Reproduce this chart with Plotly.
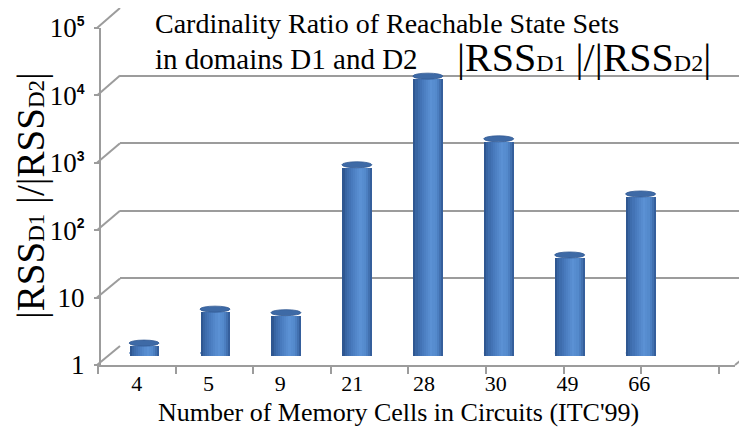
import math
import plotly.graph_objects as go

# ---------------- data ----------------
categories = ["4", "5", "9", "21", "28", "30", "49", "66"]
ratios = [1.38, 4.4, 3.9, 610, 12600, 1480, 28, 225]
y_tick_values = [1, 10, 100, 1000, 10000, 100000]
x_title = "Number of Memory Cells in Circuits (ITC'99)"
title_line1 = "Cardinality Ratio of Reachable State Sets"
title_line2 = "in domains D1 and D2"

# ---------------- geometry / style ----------------
# the page body has an 8 px margin, so the figure is 8 px smaller than the window
BODY = 8
W, H = 747 - BODY, 429 - BODY
PL, PR, PT, PB = 97, 747, 8, 365          # plot area in window pixels
PW, PH = PR - PL, PB - PT
ML, MR, MT, MB = PL - BODY, 747 - PR, PT - BODY, 429 - PB
DX, DY = 23, 19                            # 3-D depth offset in px
GRID = "#9c9c9c"
SERIF = "Liberation Serif"
N_SLOTS = len(categories) + 1              # one empty slot at the end

def px_x(px):
    return (px - PL) / PW

def px_y(py):
    return (PB - py) / PH

FRONT_TOP = px_y(28)
DXF, DYF = DX / PW, DY / PH

def sup_label(v):
    e = int(round(math.log10(v)))
    if e == 0:
        return "1"
    if e == 1:
        return "10"
    return ("10<sup><span style='font-family:Liberation Sans;"
            "font-weight:bold;font-size:14px'>%d</span></sup>" % e)

def ratio_text(size_big, size_small):
    sub = "<span style='font-size:%dpx'>%s</span>"
    return ("<span style='font-size:%dpx'>|RSS%s |/|RSS%s|</span>"
            % (size_big, sub % (size_small, "D1"), sub % (size_small, "D2")))

# cylinder shading profile (fraction across width -> rgb)
profile = [(0.0, (42, 80, 136)), (0.12, (58, 103, 166)), (0.35, (74, 125, 192)),
           (0.6, (91, 145, 212)), (0.78, (82, 136, 202)), (0.92, (62, 107, 170)),
           (1.0, (46, 86, 144))]

def shade(t):
    for (a, ca), (b, cb) in zip(profile[:-1], profile[1:]):
        if a <= t <= b:
            f = (t - a) / (b - a)
            return "rgb(%d,%d,%d)" % tuple(round(ca[i] + f * (cb[i] - ca[i])) for i in range(3))
    return "rgb(%d,%d,%d)" % profile[-1][1]

BAR_W = 0.42
NS = 14
BASE = 1
idx = list(range(len(categories)))

fig = go.Figure()
# empty helper traces so that the furniture subplots get drawn
for xa, ya in [("x", "y"), ("x2", "y2"), ("x4", "y")]:
    fig.add_trace(go.Scatter(x=[None], y=[None], xaxis=xa, yaxis=ya, mode="markers",
                             showlegend=False, hoverinfo="skip"))

sw = BAR_W / NS
for k in range(NS):
    width = sw if k == NS - 1 else sw * 1.35
    fig.add_trace(go.Bar(
        x=idx, y=[r - BASE for r in ratios], base=BASE, width=width,
        offset=-BAR_W / 2 + k * sw,
        marker=dict(color=shade((k + 0.5) / NS), line=dict(width=0)),
        xaxis="x3", yaxis="y3", showlegend=False, hoverinfo="skip"))

shapes = []
# cylinder bottoms and tops, anchored to data through the bar axes
for i, v in zip(idx, ratios):
    shapes.append(dict(type="circle", xref="x3", yref="y3", xsizemode="pixel",
                       ysizemode="pixel", xanchor=i, yanchor=BASE, x0=-15, x1=15,
                       y0=-5, y1=5, fillcolor="rgb(72,120,184)",
                       line=dict(width=0), layer="below"))
    shapes.append(dict(type="circle", xref="x3", yref="y3", xsizemode="pixel",
                       ysizemode="pixel", xanchor=i, yanchor=v, x0=-15, x1=15,
                       y0=-6, y1=6, fillcolor="rgb(62,106,166)",
                       line=dict(width=0.8, color="rgb(50,90,148)"), layer="above"))
# slanted connectors between the front value axis and the back wall
for v in y_tick_values:
    f = math.log10(v) / 5
    shapes.append(dict(type="line", xref="paper", yref="paper",
                       x0=0, y0=f * FRONT_TOP, x1=DXF, y1=DYF + f * (1 - DYF),
                       line=dict(color=GRID, width=2)))
# right edge of the floor
FLOOR_END = px_x(735)
shapes.append(dict(type="line", xref="paper", yref="paper",
                   x0=FLOOR_END, y0=0, x1=FLOOR_END + DXF, y1=DYF,
                   line=dict(color=GRID, width=2)))

annotations = [
    dict(text=title_line1, xref="paper", yref="paper", x=px_x(153),
         y=px_y(24), xanchor="left", yanchor="middle", showarrow=False,
         font=dict(family=SERIF, size=28, color="black")),
    dict(text=title_line2, xref="paper", yref="paper", x=px_x(153),
         y=px_y(59), xanchor="left", yanchor="middle", showarrow=False,
         font=dict(family=SERIF, size=29, color="black")),
    dict(text=ratio_text(40, 24), xref="paper", yref="paper", x=px_x(455),
         y=px_y(58), xanchor="left", yanchor="middle", showarrow=False,
         font=dict(family=SERIF, size=40, color="black")),
    dict(text=ratio_text(39, 23), xref="paper", yref="paper", x=px_x(31),
         y=px_y(196), xanchor="center", yanchor="middle", textangle=-90,
         showarrow=False, font=dict(family=SERIF, size=39, color="black")),
    dict(text=x_title, xref="paper", yref="paper", x=px_x(398),
         y=px_y(412), xanchor="center", yanchor="middle", showarrow=False,
         font=dict(family=SERIF, size=26, color="black")),
]

fig.update_layout(
    width=W, height=H, margin=dict(l=ML, r=MR, t=MT, b=MB, autoexpand=False),
    paper_bgcolor="white", plot_bgcolor="rgba(0,0,0,0)",
    barmode="overlay", bargap=0, showlegend=False,
    shapes=shapes, annotations=annotations,
    # front value axis (labels, ticks, axis line)
    yaxis=dict(type="log", range=[0, 5], domain=[0, FRONT_TOP], anchor="x",
               tickvals=y_tick_values, ticktext=[sup_label(v) for v in y_tick_values],
               tickfont=dict(family=SERIF, size=27, color="black"),
               ticks="outside", ticklen=5, tickcolor=GRID, tickwidth=1.5,
               ticklabelstandoff=4,
               showline=True, linecolor=GRID, linewidth=2, showgrid=False,
               zeroline=False, fixedrange=True, automargin=False),
    # category labels
    xaxis=dict(range=[-0.5, N_SLOTS - 0.5], domain=[0.006, 1], anchor="y",
               tickvals=idx, ticktext=categories, ticks="",
               tickfont=dict(family=SERIF, size=22, color="black"),
               ticklabelstandoff=3,
               showline=False, showgrid=False, zeroline=False, fixedrange=True,
               automargin=False),
    # back wall gridlines
    xaxis2=dict(range=[0, 1], domain=[DXF, 1], anchor="y2", showticklabels=False,
                ticks="", showline=False, showgrid=False, zeroline=False),
    yaxis2=dict(type="log", range=[-0.002, 5.002], domain=[DYF, 1], anchor="x2",
                tickvals=y_tick_values, showticklabels=False, ticks="",
                showgrid=True, gridcolor=GRID, gridwidth=2, showline=False,
                zeroline=False),
    # bars at mid depth
    xaxis3=dict(range=[-0.5, N_SLOTS - 0.5], domain=[px_x(108.6), 1],
                anchor="y3", visible=False),
    yaxis3=dict(type="log", range=[-(PB - 355.5) / 67.4, 5 + (18.5 - PT) / 67.4],
                domain=[0, 1], anchor="x3", visible=False),
    # floor front edge with its tick marks
    xaxis4=dict(range=[-1 / 77.6, (735 - 98) / 77.6], domain=[0, FLOOR_END],
                anchor="y", tickvals=list(range(N_SLOTS)), showticklabels=False,
                ticks="outside", ticklen=7, tickcolor=GRID, tickwidth=1.5,
                showline=True, linecolor=GRID, linewidth=2, showgrid=False,
                zeroline=False),
)

fig.write_html("out.html")
